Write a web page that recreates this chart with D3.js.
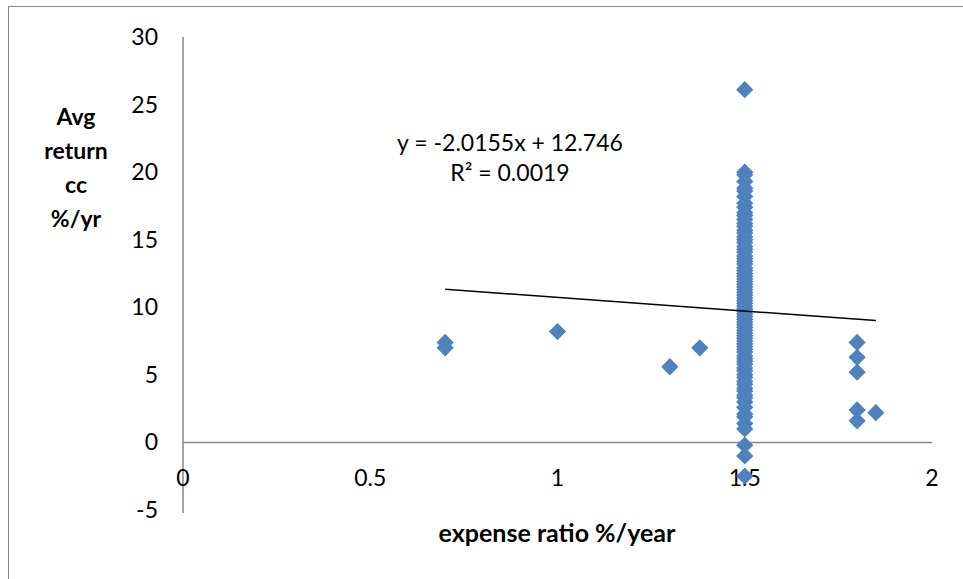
<!DOCTYPE html>
<html>
<head>
<meta charset="utf-8">
<script src="https://cdn.jsdelivr.net/npm/d3@7"></script>
<style>
  html, body { margin: 0; padding: 0; background: #fff; }
  svg { display: block; }
  text { font-family: Lato, "Open Sans", "Liberation Sans", sans-serif; fill: #000; }
</style>
</head>
<body>
<script>
// ---- data ----
const xTicks = [0, 0.5, 1, 1.5, 2];
const yTicks = [-5, 0, 5, 10, 15, 20, 25, 30];
const yTitleLines = ["Avg", "return", "cc", "%/yr"];
const xTitle = "expense ratio %/year";
const trendSlope = -2.0155;
const trendIntercept = 12.746;
const trendRange = [0.7, 1.85];
const trendLabel = ["y = -2.0155x + 12.746", "R² = 0.0019"];

// funds with expense ratio other than 1.5
const otherX = [0.7, 0.7, 1.0, 1.3, 1.38, 1.8, 1.8, 1.8, 1.8, 1.8, 1.85];
const otherY = [7.4, 7.0, 8.2, 5.6, 7.0, 7.4, 6.3, 5.2, 2.4, 1.6, 2.2];

// funds with expense ratio 1.5
const colX = 1.5;
const colY = [26.1, 20.0, 19.8, 19.3, 18.8, 18.6, 18.2, 17.7, 17.4, 17.0, 16.8, 16.5,
  16.2, 16.0, 15.7, 15.5, 15.2, 15.0, 14.8, 14.5, 14.3, 14.1, 13.8, 13.6, 13.4, 13.2,
  12.9, 12.7, 12.5, 12.3, 12.1, 11.9, 11.7, 11.5, 11.3, 11.1, 10.9, 10.7, 10.5, 10.3,
  10.1, 9.9, 9.7, 9.5, 9.3, 9.1, 8.9, 8.7, 8.5, 8.3, 8.1, 7.9, 7.7, 7.5, 7.3, 7.1,
  6.9, 6.7, 6.4, 6.2, 6.0, 5.8, 5.5, 5.3, 5.0, 4.8, 4.5, 4.3, 4.0, 3.8, 3.5, 3.3,
  3.0, 2.6, 2.1, 1.9, 1.4, 1.0, -0.2, -1.0, -2.5];

const points = otherX.map((x, i) => ({x, y: otherY[i]}))
  .concat(colY.map(y => ({x: colX, y})));

// ---- layout ----
const W = 963, H = 579;
const svg = d3.select("body").append("svg").attr("width", W).attr("height", H);

// chart border (right/bottom lie outside the picture)
svg.append("rect").attr("x", 8.5).attr("y", 6.5).attr("width", 1000).attr("height", 1000)
  .attr("fill", "#fff").attr("stroke", "#868686").attr("stroke-width", 1);

const x = d3.scaleLinear().domain([0, 2]).range([183, 932]);
const y = d3.scaleLinear().domain([-5, 30]).range([510, 37]);

// y axis line
svg.append("line").attr("x1", x(0)).attr("x2", x(0)).attr("y1", y(30)).attr("y2", y(-5) + 3)
  .attr("stroke", "#868686").attr("stroke-width", 1.5);
// x axis line at y=0
svg.append("line").attr("x1", x(0)).attr("x2", x(2)).attr("y1", y(0)).attr("y2", y(0))
  .attr("stroke", "#868686").attr("stroke-width", 1.5);

// y tick labels
svg.selectAll("text.yt").data(yTicks).enter().append("text")
  .attr("class", "yt")
  .attr("x", 158).attr("y", d => y(d)).attr("dy", "0.35em")
  .attr("text-anchor", "end").attr("font-size", 23)
  .text(d => String(d));

// x tick labels
svg.selectAll("text.xt").data(xTicks).enter().append("text")
  .attr("class", "xt")
  .attr("x", d => x(d)).attr("y", 478).attr("dy", "0.35em")
  .attr("text-anchor", "middle").attr("font-size", 23)
  .text(d => String(d));

// axis titles
svg.append("text").attr("x", 557).attr("y", 533).attr("dy", "0.35em")
  .attr("text-anchor", "middle").attr("font-size", 25).attr("font-weight", "bold")
  .text(xTitle);
svg.selectAll("text.ytl").data(yTitleLines).enter().append("text")
  .attr("class", "ytl")
  .attr("x", 76).attr("y", (d, i) => 117 + i * 34).attr("dy", "0.35em")
  .attr("text-anchor", "middle").attr("font-size", 23).attr("font-weight", "bold")
  .text(d => d);

// markers
const diamond = d3.symbol().type(d3.symbolDiamond2).size(190);
svg.append("g").selectAll("path").data(points).enter().append("path")
  .attr("transform", d => `translate(${x(d.x)},${y(d.y)})`)
  .attr("d", diamond)
  .attr("fill", "#4F81BD");

// trendline
svg.append("line")
  .attr("x1", x(trendRange[0])).attr("y1", y(trendSlope * trendRange[0] + trendIntercept))
  .attr("x2", x(trendRange[1])).attr("y2", y(trendSlope * trendRange[1] + trendIntercept))
  .attr("stroke", "#000").attr("stroke-width", 1.5);

// trendline label
svg.selectAll("text.tl").data(trendLabel).enter().append("text")
  .attr("class", "tl")
  .attr("x", 510).attr("y", (d, i) => 143 + i * 30).attr("dy", "0.35em")
  .attr("text-anchor", "middle").attr("font-size", 23)
  .text(d => d);
</script>
</body>
</html>
